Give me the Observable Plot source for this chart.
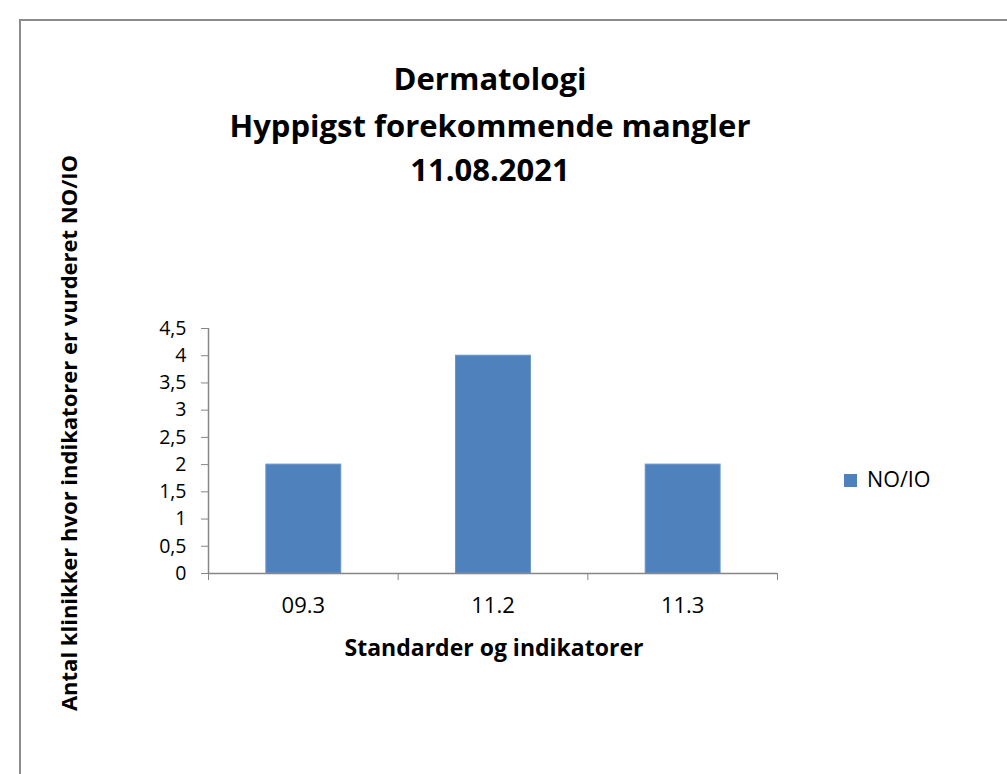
<!DOCTYPE html>
<html>
<head>
<meta charset="utf-8">
<script src="https://cdn.jsdelivr.net/npm/d3@7"></script>
<script src="https://cdn.jsdelivr.net/npm/@observablehq/plot@0.6"></script>
<style>
  html, body { margin: 0; padding: 0; background: #fff; }
  #wrap { position: relative; width: 1007px; height: 774px; overflow: hidden; font-family: "Open Sans", Lato, sans-serif; color: #000; }
  #border { position: absolute; left: 19px; top: 19px; width: 1100px; height: 900px; border: 2px solid #8c8c8c; box-sizing: border-box; }
  .title { position: absolute; left: 0; width: 980px; text-align: center; font-weight: bold; font-size: 31px; line-height: 1; white-space: nowrap; }
  #ylab { position: absolute; left: 68px; top: 433px; transform: translate(-50%, -50%) rotate(-90deg); white-space: nowrap; font-weight: bold; font-size: 22px; line-height: 1; }
  #xlab { position: absolute; left: 0; width: 988px; top: 636px; text-align: center; font-weight: bold; font-size: 23px; line-height: 1; }
  #legend { position: absolute; left: 844px; top: 468px; font-size: 21.5px; line-height: 1; }
  #legend span.sw { position: absolute; left: 0; top: 6px; width: 13px; height: 13px; background: #4F81BD; }
  #legend span.tx { position: absolute; left: 23px; top: 0; white-space: nowrap; }
  #chart { position: absolute; left: 0; top: 0; }
</style>
</head>
<body>
<div id="wrap">
  <div id="border"></div>
  <div id="chart"></div>
  <div class="title" style="top:63px">Dermatologi</div>
  <div class="title" style="top:110px">Hyppigst forekommende mangler</div>
  <div class="title" style="top:154px">11.08.2021</div>
  <div id="ylab">Antal klinikker hvor indikatorer er vurderet NO/IO</div>
  <div id="xlab">Standarder og indikatorer</div>
  <div id="legend"><span class="sw"></span><span class="tx" id="legtext"></span></div>
</div>
<script>
const categories = ["09.3", "11.2", "11.3"];
const values = [2, 4, 2];
const seriesName = "NO/IO";
const yTicks = [0, 0.5, 1, 1.5, 2, 2.5, 3, 3.5, 4, 4.5];

document.getElementById("legtext").textContent = seriesName;

const data = categories.map((c, i) => ({cat: c, idx: i, val: values[i]}));
const fmt = d => String(d).replace(".", ",");

const chart = Plot.plot({
  width: 1007,
  height: 774,
  marginLeft: 208,
  marginRight: 230,
  marginTop: 328,
  marginBottom: 201,
  style: {fontFamily: "'Open Sans', Lato, sans-serif", fontSize: "22px", color: "#000", background: "transparent"},
  x: {type: "linear", domain: [0, categories.length]},
  y: {domain: [0, 4.5]},
  marks: [
    Plot.rectY(data, {x1: d => d.idx + 0.305, x2: d => d.idx + 0.7, y: "val", fill: "#4F81BD", stroke: "#6a95cc", strokeWidth: 1}),
    Plot.ruleX([0], {stroke: "#868686", strokeWidth: 1.5}),
    Plot.ruleY([0], {stroke: "#868686", strokeWidth: 1.5}),
    Plot.axisY({ticks: yTicks, tickFormat: fmt, tickSize: 7, tickPadding: 15, stroke: "#868686", fill: "#000", fontSize: 19.5, label: null}),
    Plot.axisX({ticks: d3.range(categories.length + 1), tickFormat: () => "", tickSize: 7, stroke: "#868686", label: null}),
    Plot.axisX({ticks: categories.map((c, i) => i + 0.5), tickFormat: t => categories[Math.floor(t)], tickSize: 0, tickPadding: 24, fill: "#000", label: null})
  ]
});
document.getElementById("chart").appendChild(chart);
</script>
</body>
</html>
